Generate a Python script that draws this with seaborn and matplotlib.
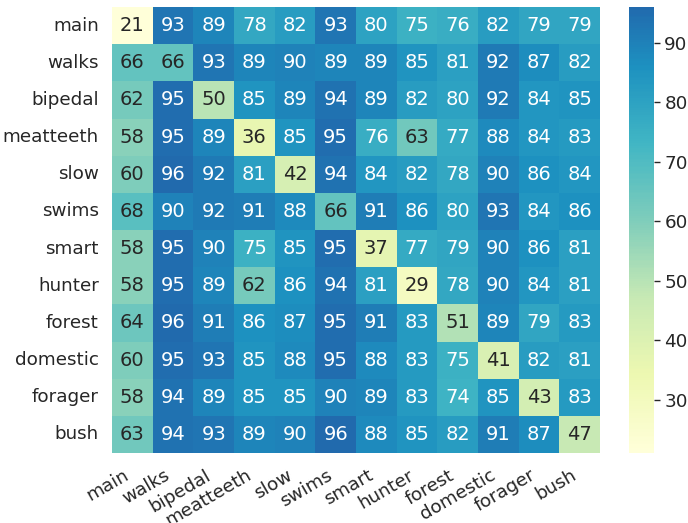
import numpy as np
import pandas as pd
import matplotlib
matplotlib.use("Agg")
import matplotlib.pyplot as plt
from matplotlib.colors import ListedColormap
import seaborn as sns

sns.set_theme(style="white", font_scale=1.2)

labels = ["main", "walks", "bipedal", "meatteeth", "slow", "swims",
          "smart", "hunter", "forest", "domestic", "forager", "bush"]

row_main      = [21, 93, 89, 78, 82, 93, 80, 75, 76, 82, 79, 79]
row_walks     = [66, 66, 93, 89, 90, 89, 89, 85, 81, 92, 87, 82]
row_bipedal   = [62, 95, 50, 85, 89, 94, 89, 82, 80, 92, 84, 85]
row_meatteeth = [58, 95, 89, 36, 85, 95, 76, 63, 77, 88, 84, 83]
row_slow      = [60, 96, 92, 81, 42, 94, 84, 82, 78, 90, 86, 84]
row_swims     = [68, 90, 92, 91, 88, 66, 91, 86, 80, 93, 84, 86]
row_smart     = [58, 95, 90, 75, 85, 95, 37, 77, 79, 90, 86, 81]
row_hunter    = [58, 95, 89, 62, 86, 94, 81, 29, 78, 90, 84, 81]
row_forest    = [64, 96, 91, 86, 87, 95, 91, 83, 51, 89, 79, 83]
row_domestic  = [60, 95, 93, 85, 88, 95, 88, 83, 75, 41, 82, 81]
row_forager   = [58, 94, 89, 85, 85, 90, 89, 83, 74, 85, 43, 83]
row_bush      = [63, 94, 93, 89, 90, 96, 88, 85, 82, 91, 87, 47]

rows = [row_main, row_walks, row_bipedal, row_meatteeth, row_slow, row_swims,
        row_smart, row_hunter, row_forest, row_domestic, row_forager, row_bush]
df = pd.DataFrame(rows, index=labels, columns=labels)

# lighter part of YlGnBu only
base = sns.color_palette("YlGnBu", as_cmap=True)
cmap = ListedColormap(base(np.linspace(0, 0.72, 256)))

fig = plt.figure(figsize=(6.88, 5.23), dpi=100)
ax = fig.add_axes([0.1628, 0.1338, 0.7093, 0.8528])
cax = fig.add_axes([0.9142, 0.1338, 0.0363, 0.8528])
sns.heatmap(df, annot=True, fmt="d", cmap=cmap, ax=ax, cbar_ax=cax,
            annot_kws={"size": 14})
ax.set_xticklabels(ax.get_xticklabels(), rotation=30, ha="right")
ax.set_yticklabels(ax.get_yticklabels(), rotation=0)
cax.tick_params(length=4, width=1, color="#262626")
plt.savefig("out.png")
